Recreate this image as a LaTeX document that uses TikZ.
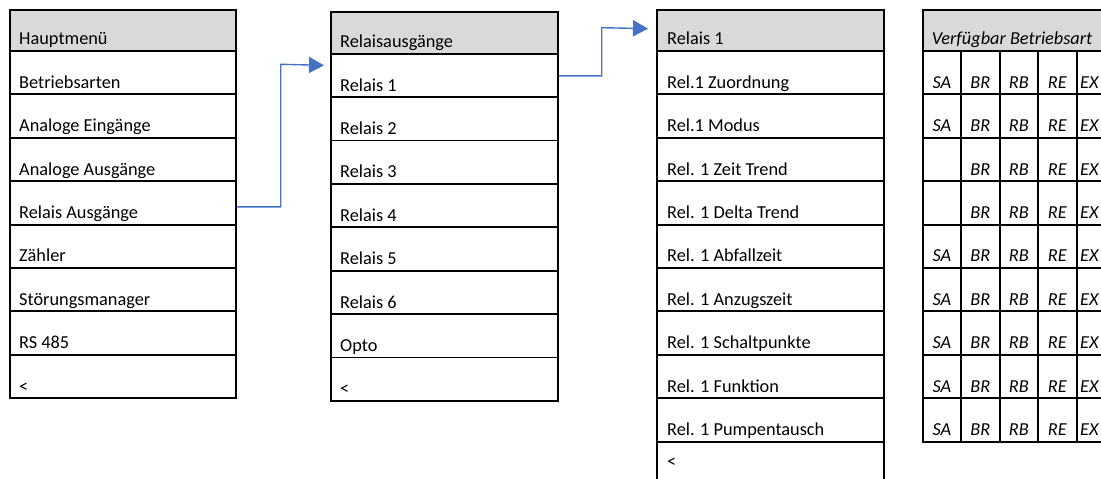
\documentclass[tikz,border=0pt]{standalone}
\usepackage{fontspec}
\setmainfont{Carlito}
\usetikzlibrary{arrows.meta,calc}
\definecolor{hdr}{HTML}{D9D9D9}
\definecolor{arr}{HTML}{4472C4}
\tikzset{
  cell/.style={draw=black, line width=1.9pt, rectangle, inner sep=0pt, anchor=north west},
  hcell/.style={cell, fill=hdr},
  txt/.style={anchor=base west, inner sep=0pt, font=\fontsize{18.3}{21}\selectfont},
  itxt/.style={anchor=base, inner sep=0pt, font=\fontsize{18.3}{21}\selectfont\itshape},
  link/.style={draw=arr, line width=1.4pt, -{Triangle[length=15pt,width=16pt]}},
}
\begin{document}
\begin{tikzpicture}[x=1pt,y=-1pt]
\useasboundingbox (0,0) rectangle (1101,479);
\clip (0,0) rectangle (1101,479);

% ---- Hauptmenü ----
\node[hcell, minimum width=226pt, minimum height=41pt] (m0) at (9,9) {};
\node[txt] (mt0) at ($(m0.south west)+(10,-7)$) {Hauptmenü};
\foreach \t [count=\i] in {Betriebsarten, Analoge Eingänge, Analoge Ausgänge, Relais Ausgänge, Zähler, Störungsmanager, RS 485, <} {
  \node[cell, minimum width=226pt, minimum height=43.4pt] (m\i) at (9,{50+43.4*(\i-1)}) {};
  \node[txt] (mt\i) at ($(m\i.south west)+(10,-7)$) {\t};
}

% ---- Relaisausgänge ----
\node[hcell, minimum width=227pt, minimum height=41.7pt] (r0) at (330,11) {};
\node[txt] (rt0) at ($(r0.south west)+(10,-7)$) {Relaisausgänge};
\foreach \t [count=\i] in {Relais 1, Relais 2, Relais 3, Relais 4, Relais 5, Relais 6, Opto, <} {
  \node[cell, minimum width=227pt, minimum height=43.4pt] (r\i) at (330,{52.7+43.4*(\i-1)}) {};
  \node[txt] (rt\i) at ($(r\i.south west)+(10,-7)$) {\t};
}

% ---- Relais 1 ----
\node[hcell, minimum width=227pt, minimum height=41pt] (s0) at (656,9) {};
\node[txt] (st0) at ($(s0.south west)+(11,-7)$) {Relais 1};
\foreach \t [count=\i] in {Rel.1 Zuordnung, Rel.1 Modus, Rel. 1 Zeit Trend, Rel. 1 Delta Trend, Rel. 1 Abfallzeit, Rel. 1 Anzugszeit, Rel. 1 Schaltpunkte, Rel. 1 Funktion, Rel. 1 Pumpentausch} {
  \node[cell, minimum width=227pt, minimum height=43.4pt] (s\i) at (656,{50+43.4*(\i-1)}) {};
  \node[txt] (st\i) at ($(s\i.south west)+(11,-7)$) {\t};
}
\node[cell, minimum width=227pt, minimum height=43.4pt] (s10) at (656,440.6) {};
\node[txt] (st10) at ($(s10.north west)+(11,27)$) {<};

% ---- Verfügbar Betriebsart ----
\node[hcell, minimum width=192.5pt, minimum height=41pt] (g0) at (921.7,9) {};
\node[txt, font=\fontsize{18.3}{21}\selectfont\itshape] (gt0) at ($(g0.south west)+(10,-7)$) {Verfügbar Betriebsart};
\foreach \r/\first in {1/SA,2/SA,3/,4/,5/SA,6/SA,7/SA,8/SA,9/SA} {
  \foreach \t [count=\c] in {\first,BR,RB,RE,EX} {
    \node[cell, minimum width=38.5pt, minimum height=43.4pt] (g\r-\c) at ({921.7+38.5*(\c-1)},{50+43.4*(\r-1)}) {};
    \ifnum\c=5
      \node[txt, font=\fontsize{18.3}{21}\selectfont\itshape] (gt\r-\c) at ($(g\r-\c.south west)+(4.3,-7)$) {\t};
    \else
      \node[itxt] (gt\r-\c) at ($(g\r-\c.south)+(0,-7)$) {\t};
    \fi
  }
}

% ---- connectors ----
\coordinate (a1start) at ($(m4.east)+(0,4)$);
\coordinate (a1mid) at (280.7,64.3);
\coordinate (a1end) at ($(r1.west)+(-6,-10)$);
\draw[link] (a1start) -| (a1mid) -- (a1end);

\coordinate (a2start) at ($(r1.east)+(0,0.5)$);
\coordinate (a2mid) at (601.7,27.7);
\coordinate (a2end) at ($(s0.west)+(-8,-1.8)$);
\draw[link] (a2start) -| (a2mid) -- (a2end);
\end{tikzpicture}
\end{document}
